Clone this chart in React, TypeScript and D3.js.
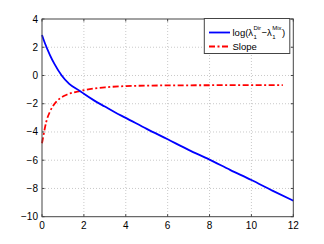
import React, { useEffect, useRef } from 'react';
import * as d3 from 'd3';

// blue curve: log(lambda1^Dir - lambda1^Mix)
const logX = [0, 0.14, 0.38, 0.6, 0.94, 1.3, 1.81, 2, 2.5, 3, 3.5, 4, 5, 6, 7, 8, 9, 10, 11, 12];
const logY = [2.87, 2.28, 1.45, 0.8, 0, -0.6, -1.1, -1.3, -1.78, -2.2, -2.62, -3.0, -3.78, -4.52, -5.27, -5.96, -6.7, -7.4, -8.15, -8.87];

// red curve: slope
const slopeX = [0, 0.05, 0.1, 0.2, 0.38, 0.6, 0.86, 1.2, 1.81, 2.5, 3, 4, 5, 6, 8, 10, 11.5];
const slopeY = [-4.8, -4.4, -4.0, -3.3, -2.56, -2.0, -1.62, -1.35, -1.1, -0.92, -0.84, -0.75, -0.72, -0.7, -0.69, -0.68, -0.68];

const xTicks = [0, 2, 4, 6, 8, 10, 12];
const yTicks = [-10, -8, -6, -4, -2, 0, 2, 4];

const App = () => {
  const ref = useRef<SVGSVGElement | null>(null);

  useEffect(() => {
    document.body.style.margin = '0';
    const svg = d3.select(ref.current);
    svg.selectAll('*').remove();

    const left = 42, right = 293.3, top = 19, bottom = 216.7;
    const x = d3.scaleLinear().domain([0, 12]).range([left, right]);
    const y = d3.scaleLinear().domain([-10, 4]).range([bottom, top]);
    const font = 'Liberation Sans, Arial, sans-serif';
    const fmt = (v: number) => (v < 0 ? '\u2212' + Math.abs(v) : String(v));

    svg.append('rect').attr('width', 324).attr('height', 244).attr('fill', '#fff');

    // grid
    const grid = svg.append('g')
      .attr('stroke', '#bbb')
      .attr('stroke-width', 0.8)
      .attr('stroke-dasharray', '1,2');
    xTicks.slice(1, -1).forEach(t => {
      grid.append('line').attr('x1', x(t)).attr('x2', x(t)).attr('y1', top).attr('y2', bottom);
    });
    yTicks.slice(1, -1).forEach(t => {
      grid.append('line').attr('x1', left).attr('x2', right).attr('y1', y(t)).attr('y2', y(t));
    });

    // ticks inside the frame
    const tk = svg.append('g').attr('stroke', '#444').attr('stroke-width', 1);
    xTicks.forEach(t => {
      tk.append('line').attr('x1', x(t)).attr('x2', x(t)).attr('y1', bottom).attr('y2', bottom - 2.5);
      tk.append('line').attr('x1', x(t)).attr('x2', x(t)).attr('y1', top).attr('y2', top + 2.5);
    });
    yTicks.forEach(t => {
      tk.append('line').attr('x1', left).attr('x2', left + 2.5).attr('y1', y(t)).attr('y2', y(t));
      tk.append('line').attr('x1', right).attr('x2', right - 2.5).attr('y1', y(t)).attr('y2', y(t));
    });

    // tick labels
    svg.append('g').selectAll('text').data(xTicks).enter().append('text')
      .attr('x', d => x(d))
      .attr('y', bottom + 12)
      .attr('text-anchor', 'middle')
      .style('font-family', font)
      .style('font-size', '10px')
      .attr('fill', '#000')
      .text(d => fmt(d));
    svg.append('g').selectAll('text').data(yTicks).enter().append('text')
      .attr('x', left - 4)
      .attr('y', d => y(d) + 3.5)
      .attr('text-anchor', 'end')
      .style('font-family', font)
      .style('font-size', '10px')
      .attr('fill', '#000')
      .text(d => fmt(d));

    const line = d3.line<[number, number]>()
      .x(d => x(d[0]))
      .y(d => y(d[1]))
      .curve(d3.curveMonotoneX);

    svg.append('path')
      .datum(slopeX.map((v, i) => [v, slopeY[i]] as [number, number]))
      .attr('d', line)
      .attr('fill', 'none')
      .attr('stroke', '#ff0000')
      .attr('stroke-width', 1.8)
      .attr('stroke-dasharray', '6,2.5,2,2.5');

    svg.append('path')
      .datum(logX.map((v, i) => [v, logY[i]] as [number, number]))
      .attr('d', line)
      .attr('fill', 'none')
      .attr('stroke', '#0000ff')
      .attr('stroke-width', 1.8);

    // frame
    svg.append('rect')
      .attr('x', left).attr('y', top)
      .attr('width', right - left).attr('height', bottom - top)
      .attr('fill', 'none')
      .attr('stroke', '#444')
      .attr('stroke-width', 1);

    // legend
    const lg = svg.append('g');
    lg.append('rect')
      .attr('x', 204.3).attr('y', 18.5)
      .attr('width', 85.5).attr('height', 35)
      .attr('fill', '#fff')
      .attr('stroke', '#444')
      .attr('stroke-width', 1);
    lg.append('line')
      .attr('x1', 209).attr('x2', 230).attr('y1', 32.5).attr('y2', 32.5)
      .attr('stroke', '#0000ff').attr('stroke-width', 1.8);
    lg.append('line')
      .attr('x1', 209).attr('x2', 230).attr('y1', 46.5).attr('y2', 46.5)
      .attr('stroke', '#ff0000').attr('stroke-width', 1.8)
      .attr('stroke-dasharray', '6,2.5,2,2.5');

    const txt = (s: string, tx: number, ty: number, size: number) =>
      lg.append('text')
        .attr('x', tx).attr('y', ty)
        .style('font-family', font)
        .style('font-size', size + 'px')
        .attr('fill', '#000')
        .text(s);

    // TeX-like label: pieces laid out by measured width, sub/sup stacked
    let cx = 232.5;
    const base = 35.5;
    const main = (s: string) => {
      const t = txt(s, cx, base, 9.5);
      cx += (t.node() as SVGTextElement).getComputedTextLength();
    };
    const stack = (sup: string, sub: string) => {
      const a = txt(sup, cx + 0.3, 29.5, 6);
      const b = txt(sub, cx + 0.3, 38.5, 6);
      const w = Math.max(
        (a.node() as SVGTextElement).getComputedTextLength(),
        (b.node() as SVGTextElement).getComputedTextLength()
      );
      cx += w + 0.8;
    };
    main('log(\u03bb');
    stack('Dir', '1');
    main('\u2212\u03bb');
    stack('Mix', '1');
    main(')');
    txt('Slope', 232.5, 50, 9.5);
  }, []);

  return <svg ref={ref} width={324} height={244} style={{ display: 'block' }} />;
};

export default App;
